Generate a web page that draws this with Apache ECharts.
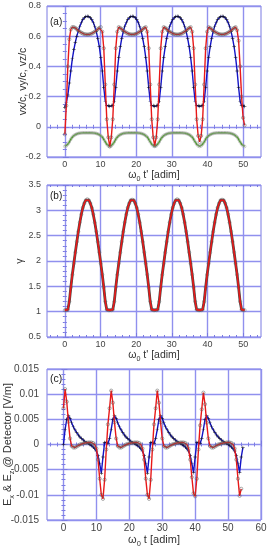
<!DOCTYPE html>
<html><head><meta charset="utf-8">
<script src="https://cdn.jsdelivr.net/npm/echarts@6/dist/echarts.min.js"></script>
<style>html,body{margin:0;padding:0;background:#fff}#c{width:268px;height:550px}</style>
</head><body><div id="c"></div>
<script>
// ---------- data ----------
const DT_A = 0.42;   // sampling step of omega0 t' in panels (a),(b)
const DT_C = 0.5;    // sampling step of omega0 t in panel (c)

const vxA = [
 -0.05,0.14,0.40,0.58,0.645,0.66,0.66,0.655,0.647,0.638,0.63,0.623,0.618,0.614,0.612,0.611,0.612,0.614,0.618,0.623,0.63,0.638,0.647,0.655,0.66,0.63,0.52,0.28,0.05,-0.07,
 -0.13,-0.07,0.05,0.28,0.52,0.63,0.66,0.655,0.647,0.638,0.63,0.623,0.618,0.614,0.612,0.611,0.612,0.614,0.618,0.623,0.63,0.638,0.647,0.655,0.66,0.63,0.52,0.28,0.05,-0.07,
 -0.125,-0.07,0.05,0.28,0.52,0.63,0.66,0.655,0.647,0.638,0.63,0.623,0.618,0.614,0.612,0.611,0.612,0.614,0.618,0.623,0.63,0.638,0.647,0.655,0.66,0.63,0.52,0.28,0.05,-0.06,
 -0.10,-0.06,0.05,0.28,0.52,0.63,0.66,0.655,0.647,0.638,0.63,0.623,0.618,0.614,0.612,0.611,0.612,0.614,0.618,0.623,0.63,0.638,0.647,0.655,0.66,0.64,0.57,0.40,0.20,0.06,
 0.01];
const vyA = [
 0.13,0.16,0.21,0.29,0.37,0.45,0.51,0.56,0.60,0.635,0.665,0.69,0.71,0.722,0.73,0.732,0.73,0.722,0.71,0.69,0.665,0.63,0.585,0.53,0.46,0.37,0.26,0.17,0.14,0.14,
 0.135,0.14,0.14,0.17,0.26,0.37,0.46,0.53,0.585,0.63,0.665,0.69,0.71,0.722,0.73,0.732,0.73,0.722,0.71,0.69,0.665,0.63,0.585,0.53,0.46,0.37,0.26,0.17,0.14,0.14,
 0.135,0.14,0.14,0.17,0.26,0.37,0.46,0.53,0.585,0.63,0.665,0.69,0.71,0.722,0.73,0.732,0.73,0.722,0.71,0.69,0.665,0.63,0.585,0.53,0.46,0.37,0.26,0.17,0.14,0.14,
 0.135,0.14,0.14,0.17,0.26,0.37,0.46,0.53,0.585,0.63,0.665,0.69,0.71,0.722,0.73,0.732,0.73,0.722,0.71,0.69,0.665,0.63,0.585,0.53,0.46,0.37,0.26,0.17,0.14,0.14,
 0.135];
const vzA = [
 -0.13,-0.126,-0.115,-0.10,-0.083,-0.068,-0.058,-0.052,-0.047,-0.044,-0.042,-0.041,-0.04,-0.04,-0.04,-0.04,-0.04,-0.04,-0.04,-0.041,-0.042,-0.044,-0.047,-0.052,-0.058,-0.068,-0.083,-0.10,-0.115,-0.126,
 -0.13,-0.126,-0.115,-0.10,-0.083,-0.068,-0.058,-0.052,-0.047,-0.044,-0.042,-0.041,-0.04,-0.04,-0.04,-0.04,-0.04,-0.04,-0.04,-0.041,-0.042,-0.044,-0.047,-0.052,-0.058,-0.068,-0.083,-0.10,-0.115,-0.126,
 -0.13,-0.126,-0.115,-0.10,-0.083,-0.068,-0.058,-0.052,-0.047,-0.044,-0.042,-0.041,-0.04,-0.04,-0.04,-0.04,-0.04,-0.04,-0.04,-0.041,-0.042,-0.044,-0.047,-0.052,-0.058,-0.068,-0.083,-0.10,-0.115,-0.126,
 -0.13,-0.126,-0.115,-0.10,-0.083,-0.068,-0.058,-0.052,-0.047,-0.044,-0.042,-0.041,-0.04,-0.04,-0.04,-0.04,-0.04,-0.04,-0.04,-0.041,-0.042,-0.044,-0.047,-0.052,-0.058,-0.068,-0.083,-0.10,-0.115,-0.126,
 -0.13];
const gammaB = [
 1.03,1.03,1.04,1.20,1.48,1.73,1.95,2.17,2.38,2.58,2.76,2.92,3.05,3.14,3.20,3.22,3.20,3.14,3.05,2.92,2.76,2.58,2.38,2.17,1.95,1.73,1.48,1.20,1.04,1.03,
 1.03,1.03,1.04,1.20,1.48,1.73,1.95,2.17,2.38,2.58,2.76,2.92,3.05,3.14,3.20,3.21,3.20,3.14,3.05,2.92,2.76,2.58,2.38,2.17,1.95,1.73,1.48,1.20,1.04,1.03,
 1.03,1.03,1.04,1.20,1.48,1.73,1.95,2.17,2.38,2.58,2.76,2.92,3.05,3.14,3.20,3.22,3.20,3.14,3.05,2.92,2.76,2.58,2.38,2.17,1.95,1.73,1.48,1.20,1.04,1.03,
 1.03,1.03,1.04,1.20,1.48,1.73,1.95,2.17,2.38,2.58,2.76,2.92,3.05,3.14,3.20,3.21,3.20,3.14,3.05,2.92,2.76,2.58,2.38,2.17,1.95,1.73,1.48,1.20,1.04,1.03,
 1.03];
const exC = [
 0.0072,0.011,0.0085,0.0045,0.0012,-0.0003,-0.0006,-0.0006,-0.0004,-0.0002,0,0.0001,0.0002,0.0003,0.0003,0.0004,0.0004,0.0004,0.0003,0,-0.0008,-0.003,-0.0068,-0.01,-0.0108,-0.007,-0.001,0.004,
 0.0072,0.0107,0.0083,0.0044,0.0012,-0.0003,-0.0006,-0.0006,-0.0004,-0.0002,0,0.0001,0.0002,0.0003,0.0003,0.0004,0.0004,0.0004,0.0003,0,-0.0008,-0.003,-0.0068,-0.01,-0.0108,-0.007,-0.001,0.004,
 0.0072,0.0107,0.0083,0.0044,0.0012,-0.0003,-0.0006,-0.0006,-0.0004,-0.0002,0,0.0001,0.0002,0.0003,0.0003,0.0004,0.0004,0.0004,0.0003,0,-0.0008,-0.003,-0.0065,-0.0097,-0.0103,-0.0068,-0.001,0.0038,
 0.007,0.0103,0.008,0.0043,0.0012,-0.0003,-0.0006,-0.0006,-0.0004,-0.0002,0,0.0001,0.0002,0.0003,0.0003,0.0004,0.0004,0.0004,0.0003,0,-0.0008,-0.003,-0.0068,-0.0102,-0.0088];
const ezC = [
 0,0.003,0.005,0.0057,0.0052,0.0043,0.0035,0.0029,0.0024,0.0019,0.0015,0.0012,0.0009,0.0006,0.0004,0.0002,0,-0.0002,-0.0005,-0.0008,-0.0013,-0.0022,-0.0038,-0.0057,-0.0025,0.0004,0.0005,0.0002,
 0.0012,0.003,0.005,0.0057,0.0052,0.0043,0.0035,0.0029,0.0024,0.0019,0.0015,0.0012,0.0009,0.0006,0.0004,0.0002,0,-0.0002,-0.0005,-0.0008,-0.0013,-0.0022,-0.0038,-0.0057,-0.0025,0.0004,0.0005,0.0002,
 0.0012,0.003,0.005,0.0057,0.0052,0.0043,0.0035,0.0029,0.0024,0.0019,0.0015,0.0012,0.0009,0.0006,0.0004,0.0002,0,-0.0002,-0.0005,-0.0008,-0.0013,-0.0022,-0.0038,-0.0056,-0.0025,0.0004,0.0005,0.0002,
 0.0012,0.003,0.005,0.0057,0.0052,0.0043,0.0035,0.0029,0.0024,0.0019,0.0015,0.0012,0.0009,0.0006,0.0004,0.0002,0,-0.0002,-0.0005,-0.0008,-0.0013,-0.0022,-0.0038,-0.0056,-0.0025,-0.0006];

// tick values
const xTicksAB = [0,10,20,30,40,50];
const xMinorAB = [-4,-2,2,4,6,8,12,14,16,18,22,24,26,28,32,34,36,38,42,44,46,48,52,54];
const xTicksC = [0,10,20,30,40,50,60];
const xMinorC = [-4,-2,2,4,6,8,12,14,16,18,22,24,26,28,32,34,36,38,42,44,46,48,52,54,56,58];
const yTicksA = [-0.2,0,0.2,0.4,0.6,0.8];
const yMinorA = [-0.15,-0.1,-0.05,0.05,0.1,0.15,0.25,0.3,0.35,0.45,0.5,0.55,0.65,0.7,0.75];
const yTicksB = [0.5,1,1.5,2,2.5,3,3.5];
const yMinorB = [0.6,0.7,0.8,0.9,1.1,1.2,1.3,1.4,1.6,1.7,1.8,1.9,2.1,2.2,2.3,2.4,2.6,2.7,2.8,2.9,3.1,3.2,3.3,3.4];
const yTicksC = [-0.015,-0.01,-0.005,0,0.005,0.01,0.015];
const yMinorC = [-0.014,-0.013,-0.012,-0.011,-0.009,-0.008,-0.007,-0.006,-0.004,-0.003,-0.002,-0.001,0.001,0.002,0.003,0.004,0.006,0.007,0.008,0.009,0.011,0.012,0.013,0.014];

// ---------- styling ----------
const FRAME = '#7a7ae2';
const GRIDLINE = '#9090ee';
const FONT = '"Liberation Sans", Arial, sans-serif';

function xAxes(g, min, max, majors, minors, name, gap, fs, nfs) {
  return [
    {type:'value', gridIndex:g, min:min, max:max, position:'bottom',
     axisLine:{show:false},
     axisTick:{show:true, inside:true, length:4, customValues:majors, lineStyle:{color:FRAME}},
     axisLabel:{show:true, customValues:majors, margin:3, color:'#444', fontSize:fs, fontFamily:FONT},
     splitLine:{show:true, lineStyle:{color:GRIDLINE, width:1.4}},
     name:name, nameLocation:'middle', nameGap:gap,
     nameTextStyle:{color:'#333', fontFamily:FONT, fontSize:nfs,
       rich:{w:{fontSize:nfs, fontFamily:FONT, color:'#333'},
             s:{fontSize:nfs*0.68, fontFamily:FONT, color:'#333', padding:[7,0,0,0]},
             n:{fontSize:nfs, fontFamily:FONT, color:'#333'}}}},
    {type:'value', gridIndex:g, min:min, max:max, position:'bottom', axisLine:{show:false},
     axisTick:{show:true, inside:true, length:2, customValues:minors, lineStyle:{color:FRAME}},
     axisLabel:{show:false}, splitLine:{show:false}},
    {type:'value', gridIndex:g, min:min, max:max, position:'top', axisLine:{show:false},
     axisTick:{show:true, inside:true, length:2, customValues:majors.concat(minors), lineStyle:{color:FRAME}},
     axisLabel:{show:false}, splitLine:{show:false}}
  ];
}
function yAxes(g, min, max, interval, majors, minors, name, gap, fs, nfs, margin) {
  return [
    {type:'value', gridIndex:g, min:min, max:max, interval:interval, position:'left',
     axisLine:{show:false},
     axisTick:{show:true, inside:true, length:4, lineStyle:{color:FRAME}},
     axisLabel:{show:true, margin:margin, color:'#444', fontSize:fs, fontFamily:FONT},
     splitLine:{show:true, lineStyle:{color:GRIDLINE, width:1.4}},
     name:name, nameLocation:'middle', nameGap:gap, nameRotate:90, nameMoveOverlap:false,
     nameTextStyle:{color:'#333', fontFamily:FONT, fontSize:nfs,
       rich:{n:{fontSize:nfs, fontFamily:FONT, color:'#333'},
             s:{fontSize:nfs*0.68, fontFamily:FONT, color:'#333', padding:[7,0,0,0]}}}},
    {type:'value', gridIndex:g, min:min, max:max, position:'left', axisLine:{show:false},
     axisTick:{show:true, inside:true, length:2, customValues:minors, lineStyle:{color:FRAME}},
     axisLabel:{show:false}, splitLine:{show:false}},
    {type:'value', gridIndex:g, min:min, max:max, position:'right', axisLine:{show:false},
     axisTick:{show:true, inside:true, length:2, customValues:majors.concat(minors), lineStyle:{color:FRAME}},
     axisLabel:{show:false}, splitLine:{show:false}}
  ];
}

const plusPath = 'path://M0,4.4L10,4.4L10,5.6L0,5.6Z M4.4,0L5.6,0L5.6,10L4.4,10Z';
function lineSeries(g, data, color, width, symbol, symColor, symSize, z) {
  return {type:'line', xAxisIndex:3*g, yAxisIndex:3*g, data:data,
    showSymbol:true, showAllSymbol:true, symbol:symbol, symbolSize:symSize, smooth:false,
    lineStyle:{color:color, width:width},
    itemStyle: symbol === 'circle'
      ? {color:'rgba(0,0,0,0)', borderColor:symColor, borderWidth:0.5}
      : {color:symColor},
    emphasis:{disabled:true}, silent:true, z:z};
}

const ptsA = arr => arr.map((v, i) => [i * DT_A, v]);
const ptsC = arr => arr.map((v, i) => [i * DT_C, v]);

const xName1 = "{w|ω}{s|0}{n| t' [adim]}";
const xName3 = "{w|ω}{s|0}{n| t [adim]}";
const yName3 = "{n|E}{s|x}{n| & E}{s|z}{n| @ Detector [V/m]}";

const gridBase = {show:true, borderColor:FRAME, borderWidth:1, containLabel:false, outerBoundsMode:'none'};
const chart = echarts.init(document.getElementById('c'), null, {renderer:'canvas'});
chart.setOption({
  animation:false,
  backgroundColor:'#fff',
  grid:[
    Object.assign({left:47, top:6, width:214, height:151}, gridBase),
    Object.assign({left:47, top:185, width:214, height:152}, gridBase),
    Object.assign({left:47, top:369, width:214, height:151}, gridBase)
  ],
  xAxis: [].concat(
    xAxes(0, -5, 55, xTicksAB, xMinorAB, xName1, 9, 9, 10.5),
    xAxes(1, -5, 55, xTicksAB, xMinorAB, xName1, 11, 9, 10.5),
    xAxes(2, -5, 60, xTicksC, xMinorC, xName3, 13, 10, 11)
  ),
  yAxis: [].concat(
    yAxes(0, -0.2, 0.8, 0.2, yTicksA, yMinorA, '{n|vx/c, vy/c, vz/c}', 18, 9, 10.5, 6),
    yAxes(1, 0.5, 3.5, 0.5, yTicksB, yMinorB, '{n|γ}', 21, 9, 10.5, 6),
    yAxes(2, -0.015, 0.015, 0.005, yTicksC, yMinorC, yName3, 32, 10, 11, 8)
  ),
  graphic:[
    {type:'text', left:50, top:17, style:{text:'(a)', fontSize:10, fontFamily:FONT, fill:'#222'}},
    {type:'text', left:50, top:191, style:{text:'(b)', fontSize:10, fontFamily:FONT, fill:'#222'}},
    {type:'text', left:50, top:374, style:{text:'(c)', fontSize:10.5, fontFamily:FONT, fill:'#222'}}
  ],
  series:[
    lineSeries(0, ptsA(vzA), '#4a9e26', 1.7, 'circle', '#9a9a9a', 2.8, 3),
    lineSeries(0, ptsA(vyA), '#1414c8', 1.4, plusPath, '#111', 3.6, 4),
    lineSeries(0, ptsA(vxA), '#e81818', 1.4, 'circle', '#5a5a5a', 3.2, 5),
    {type:'line', xAxisIndex:3, yAxisIndex:3, data:ptsA(gammaB), showSymbol:false,
     lineStyle:{color:'#4a4a4a', width:2.8}, silent:true, z:2},
    {type:'scatter', xAxisIndex:3, yAxisIndex:3, data:ptsA(gammaB), symbol:'circle', symbolSize:3.2,
     itemStyle:{color:'rgba(0,0,0,0)', borderColor:'#666', borderWidth:0.5}, silent:true, z:3},
    {type:'line', xAxisIndex:3, yAxisIndex:3, data:ptsA(gammaB), showSymbol:false,
     lineStyle:{color:'#e81818', width:1.6}, silent:true, z:4},
    lineSeries(2, ptsC(ezC), '#1414c8', 1.4, plusPath, '#111', 3.6, 4),
    lineSeries(2, ptsC(exC), '#e81818', 1.4, 'circle', '#5a5a5a', 3.2, 5)
  ]
});
</script></body></html>
